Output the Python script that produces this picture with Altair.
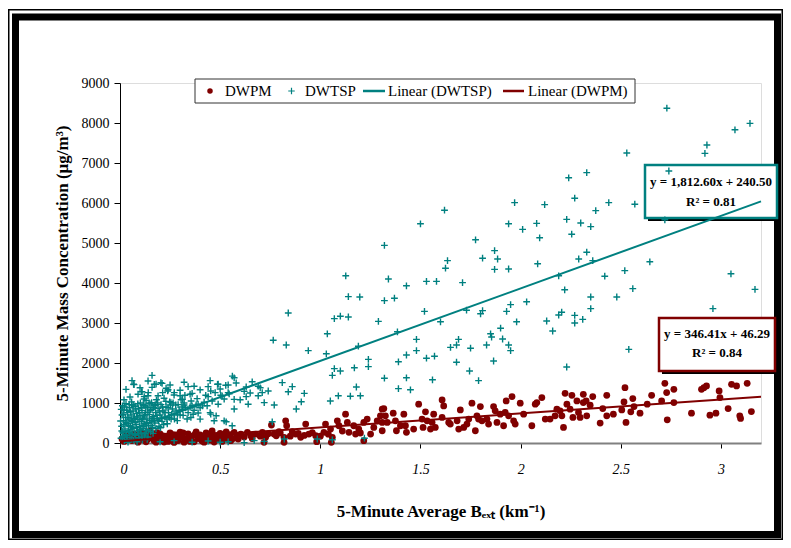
import altair as alt
import pandas as pd

# ---------------- data ----------------
series_names = ["DWPM", "DWTSP", "Linear (DWTSP)", "Linear (DWPM)"]

# DWTSP (+ markers): (Bext km-1, mass ug/m3)
tsp_points = [
    (2.73, 8370), (3.07, 7830), (3.145, 7990), (2.93, 7450), (2.92, 7240), (2.53, 7250),
    (2.74, 6800), (2.33, 6760), (2.24, 6630), (2.27, 6120), (1.97, 6010), (2.12, 5960),
    (2.44, 6010), (2.57, 5970), (1.62, 5820), (1.50, 5480), (1.94, 5480), (2.01, 5340),
    (2.08, 5490), (2.23, 5590), (2.30, 5500), (2.35, 5410), (2.375, 5810), (2.255, 5220),
    (2.095, 5130), (2.72, 5580), (1.32, 4940), (1.775, 5080), (1.87, 4810), (1.81, 4620),
    (1.885, 4600), (1.635, 4560), (1.625, 4370), (1.87, 4340), (1.94, 4350), (2.085, 4480),
    (2.29, 4600), (2.33, 4770), (2.36, 4560), (2.645, 4530), (3.05, 4230), (1.34, 4100),
    (1.43, 3930), (1.53, 4040), (1.58, 4040), (1.71, 4010), (2.19, 4180), (2.42, 4170),
    (2.52, 4310), (2.22, 3830), (2.56, 3860), (3.17, 3840), (1.32, 3560), (1.37, 3620),
    (1.52, 3290), (1.81, 3310), (1.80, 3230), (1.73, 3320), (1.95, 3460), (1.93, 3290),
    (2.03, 3530), (1.98, 3030), (1.60, 3030), (2.19, 3200), (2.205, 3270), (2.27, 3190),
    (2.27, 3000), (2.31, 3090), (2.35, 3650), (2.35, 3360), (2.48, 3650), (2.96, 3360),
    (2.13, 3050), (2.16, 2800), (1.385, 2780), (1.48, 2590), (1.69, 2590), (1.68, 2450),
    (1.65, 2390), (1.75, 2370), (1.83, 2450), (1.85, 2730), (1.855, 2650), (1.90, 2870),
    (1.91, 2600), (1.94, 2450), (1.95, 2310), (1.48, 2310), (1.43, 2200), (1.39, 2030),
    (1.53, 2120), (1.57, 2170), (1.68, 2020), (1.865, 2050), (2.54, 2340), (2.23, 1900),
    (1.45, 1330), (1.39, 1360), (1.43, 1630), (1.56, 1580), (1.32, 1620), (1.745, 1800),
    (1.79, 1560),
    (1.127, 4180), (0.84, 3250), (1.14, 3660), (1.197, 3650), (1.07, 3110), (1.10, 3170),
    (1.14, 3150), (1.29, 3040), (0.765, 2570), (0.83, 2450), (0.94, 2310), (1.035, 2730),
    (1.03, 2230), (1.07, 1860), (1.06, 1690), (1.10, 1800), (1.17, 1880), (1.19, 2420),
    (1.24, 2090), (1.24, 1910), (1.18, 1400), (1.15, 1170), (1.20, 1180), (1.09, 1180),
    (1.05, 1050), (0.81, 1510), (0.86, 1410), (0.84, 1280), (0.92, 1240), (0.905, 1030),
    (0.88, 850), (0.77, 950), (0.76, 530), (0.82, 100), (0.985, 100), (1.06, 80),
    (1.22, 120), (0.57, 1630), (0.63, 1400), (0.69, 1420), (0.74, 1300), (0.69, 1180),
    (0.72, 1010), (0.64, 970), (0.57, 1090), (0.57, 850), (0.51, 1180), (0.54, 1450),
    (0.49, 1470), (0.44, 1410), (0.16, 1690), (0.07, 1460), (0.18, 1470), (0.21, 1490),
    (0.11, 1280), (0.14, 1180), (0.24, 1330), (0.34, 1410), (0.37, 1420), (0.30, 1180),
    (0.35, 1220), (0.45, 760), (0.48, 680), (0.53, 530), (0.39, 750), (0.435, 930),
    (0.49, 970), (0.36, 930), (0.32, 950), (0.56, 430), (0.54, 30), (0.63, 1160),
    (0.71, 1260), (0.72, 40),
    (0.058, 1027), (0.121, 1160), (0.238, 1301), (0.271, 1260), (0.312, 1094), (0.324, 1193),
    (0.453, 1301), (0.487, 1467), (0.528, 1442), (0.54, 1260), (0.561, 1673), (0.39, 970),
    (0.412, 928), (0.428, 1193), (0.503, 1193), (0.453, 721), (0.47, 555), (0.52, 555),
    (0.312, 845), (0.287, 721), (0.254, 1011), (0.354, 639), (0.40, 597), (0.213, 1260),
    (0.108, 1285), (0.141, 1260), (0.171, 1467), (0.204, 1509), (0.068, 1467),
    # dense low-Bext cluster
    (0.005, 120), (0.008, 420), (0.01, 700), (0.012, 930), (0.015, 260), (0.018, 560),
    (0.02, 820), (0.022, 60), (0.025, 350), (0.028, 640), (0.03, 980), (0.032, 180),
    (0.035, 480), (0.038, 760), (0.04, 20), (0.042, 300), (0.045, 600), (0.048, 880),
    (0.05, 140), (0.052, 420), (0.055, 700), (0.058, 960), (0.06, 240), (0.062, 530),
    (0.065, 800), (0.068, 70), (0.07, 360), (0.072, 650), (0.075, 920), (0.078, 190),
    (0.08, 470), (0.082, 740), (0.085, 30), (0.088, 300), (0.09, 590), (0.092, 860),
    (0.095, 130), (0.098, 410), (0.10, 690), (0.102, 1000), (0.105, 250), (0.108, 540),
    (0.11, 810), (0.112, 80), (0.115, 370), (0.118, 650), (0.12, 930), (0.122, 200),
    (0.125, 480), (0.128, 760), (0.13, 1060), (0.132, 320), (0.135, 600), (0.138, 880),
    (0.14, 150), (0.143, 430), (0.146, 710), (0.15, 980), (0.153, 280), (0.156, 560),
    (0.16, 840), (0.163, 390), (0.166, 660), (0.17, 930), (0.174, 500), (0.178, 760),
    (0.182, 1080), (0.186, 610), (0.19, 870), (0.195, 420), (0.20, 700), (0.205, 960),
    (0.21, 540), (0.215, 800), (0.22, 1120), (0.225, 650), (0.23, 900), (0.236, 480),
    (0.242, 760), (0.248, 1030), (0.255, 600), (0.262, 850), (0.27, 700), (0.278, 950),
    (0.286, 560), (0.295, 820), (0.305, 1080), (0.315, 690), (0.328, 880), (0.34, 760),
    (0.355, 1050), (0.37, 820), (0.385, 1110), (0.40, 880), (0.42, 1020), (0.44, 1160),
    (0.46, 1050), (0.475, 1260), (0.50, 1350), (0.52, 1100), (0.545, 1230), (0.36, 1240),
    (0.30, 1320), (0.27, 1200), (0.23, 1370), (0.19, 1180), (0.16, 1390), (0.12, 1100),
    (0.09, 1220), (0.05, 1150), (0.03, 1340), (0.02, 1080), (0.06, 1560), (0.10, 1380),
    (0.14, 1550), (0.25, 1450), (0.32, 1520), (0.40, 1330), (0.45, 1560), (0.58, 1500),
    (0.62, 1290), (0.66, 1530), (0.60, 1080), (0.65, 1250), (0.70, 1380),
    (0.20, 30), (0.27, 60), (0.36, 20), (0.44, 50), (0.50, 20), (0.62, 10), (0.67, 60),
    (0.003, 550), (0.006, 840), (0.009, 300), (0.013, 150), (0.016, 720), (0.019, 460),
    (0.023, 900), (0.026, 210), (0.029, 520), (0.033, 820), (0.036, 90), (0.039, 640),
    (0.043, 430), (0.046, 960), (0.049, 270), (0.053, 780), (0.056, 560), (0.059, 90),
    (0.063, 390), (0.066, 950), (0.069, 610), (0.073, 220), (0.076, 520), (0.079, 850),
    (0.083, 380), (0.086, 650), (0.089, 980), (0.093, 230), (0.096, 760), (0.099, 540),
    (0.103, 330), (0.106, 880), (0.109, 150), (0.113, 600), (0.116, 960), (0.119, 420),
    (0.123, 700), (0.126, 240), (0.129, 900), (0.133, 510), (0.136, 90), (0.139, 770),
    (0.142, 330), (0.145, 1000), (0.148, 560), (0.152, 820), (0.155, 440), (0.158, 1010),
    (0.161, 620), (0.165, 240), (0.168, 880), (0.172, 560), (0.176, 960), (0.18, 360),
    (0.184, 690), (0.188, 1000), (0.192, 560), (0.197, 800), (0.202, 380), (0.207, 620),
    (0.212, 900), (0.218, 460), (0.224, 760), (0.229, 1040), (0.234, 600), (0.24, 880),
    (0.246, 640), (0.252, 950), (0.258, 720), (0.265, 1000), (0.272, 600), (0.28, 800),
    (0.29, 960), (0.30, 700), (0.31, 900), (0.32, 1000), (0.335, 600), (0.35, 900),
    (0.365, 720), (0.38, 950),
]

# DWPM (filled dots)
pm_points = [
    (0.02, 40), (0.04, 90), (0.06, 60), (0.08, 130), (0.10, 80), (0.12, 150), (0.14, 100),
    (0.16, 180), (0.17, 60), (0.19, 140), (0.20, 230), (0.21, 90), (0.23, 170), (0.24, 40),
    (0.25, 250), (0.26, 120), (0.28, 200), (0.29, 60), (0.30, 270), (0.31, 150), (0.33, 90),
    (0.34, 230), (0.35, 40), (0.36, 170), (0.38, 280), (0.39, 110), (0.40, 200), (0.41, 50),
    (0.43, 250), (0.44, 140), (0.45, 70), (0.46, 300), (0.48, 190), (0.49, 100), (0.50, 240),
    (0.51, 40), (0.52, 160), (0.53, 280), (0.54, 90), (0.55, 210), (0.03, 180), (0.07, 220),
    (0.11, 260), (0.15, 300), (0.09, 20), (0.13, 30), (0.18, 20), (0.22, 25), (0.27, 15),
    (0.32, 20), (0.37, 30), (0.42, 20), (0.47, 25),
    (0.01, 100), (0.05, 150), (0.09, 200), (0.13, 220), (0.165, 120), (0.185, 260),
    (0.215, 180), (0.235, 110), (0.265, 210), (0.285, 140), (0.315, 250), (0.345, 130),
    (0.375, 220), (0.395, 170), (0.425, 120), (0.455, 220), (0.475, 140), (0.505, 110),
    (0.525, 230), (0.545, 160), (0.565, 110), (0.59, 100), (0.62, 150), (0.66, 110),
    (0.70, 170), (0.74, 230), (0.78, 180), (0.80, 250), (0.85, 170), (0.89, 240),
    (0.92, 190), (0.96, 260), (1.00, 170), (1.04, 220), (1.11, 300), (1.20, 250),
    (0.553, 57), (0.57, 266), (0.586, 182), (0.603, 224), (0.636, 266), (0.653, 182),
    (0.678, 224), (0.711, 266), (0.719, 17), (0.727, 141), (0.756, 448), (0.769, 224),
    (0.794, 282), (0.819, 141), (0.819, 17), (0.827, 555), (0.832, 431), (0.86, 282),
    (0.877, 224), (0.902, 141), (0.927, 472), (0.943, 224), (0.977, 182), (0.982, 32),
    (1.018, 266), (1.026, 472), (1.051, 348), (1.055, 17), (1.06, 141), (1.085, 555),
    (1.093, 431), (1.126, 721), (1.135, 514), (1.143, 266), (1.167, 431), (1.176, 224),
    (1.192, 348), (1.217, 514), (1.217, 57), (1.234, 597), (1.251, 224), (1.267, 390),
    (1.284, 555), (1.30, 680), (1.309, 845),
    (1.317, 862), (1.325, 680), (1.309, 514), (1.309, 306), (1.364, 746), (1.375, 555),
    (1.334, 514), (1.380, 306), (1.417, 721), (1.400, 431), (1.425, 431), (1.430, 266),
    (1.466, 348), (1.491, 970), (1.508, 597), (1.513, 390), (1.525, 779), (1.533, 555),
    (1.558, 514), (1.550, 348), (1.566, 721), (1.574, 390), (1.608, 1077), (1.616, 928),
    (1.608, 639), (1.641, 514), (1.649, 472), (1.683, 555), (1.699, 828), (1.691, 348),
    (1.716, 390), (1.741, 597), (1.732, 472), (1.757, 995), (1.774, 306), (1.782, 680),
    (1.799, 912), (1.790, 597), (1.807, 555), (1.832, 597), (1.840, 472), (1.865, 912),
    (1.873, 804), (1.882, 514), (1.898, 721), (1.915, 431), (1.923, 763), (1.928, 1052),
    (1.940, 680), (1.957, 1160), (1.965, 555), (1.973, 472), (1.998, 995), (2.015, 721),
    (2.056, 431), (2.073, 970), (2.081, 1011), (2.106, 1136), (2.123, 597), (2.147, 597),
    (2.172, 680), (2.181, 845), (2.197, 804), (2.206, 680), (2.214, 390), (2.222, 1243),
    (2.231, 970), (2.256, 1193), (2.247, 845), (2.261, 639), (2.281, 1052), (2.289, 763),
    (2.297, 639), (2.313, 1218), (2.313, 1011), (2.327, 1052), (2.330, 680), (2.347, 945),
    (2.360, 1160), (2.397, 497), (2.410, 862), (2.430, 1193), (2.430, 680), (2.463, 721),
    (2.505, 828), (2.516, 1027), (2.521, 1384), (2.526, 514), (2.560, 1110), (2.566, 912),
    (2.550, 779), (2.596, 746), (2.632, 970), (2.654, 1193), (2.704, 1052), (2.720, 1492),
    (2.729, 1260), (2.732, 580), (2.765, 1343), (2.765, 1011), (2.853, 746), (2.903, 1343),
    (2.915, 1384), (2.928, 1426), (2.945, 696), (2.975, 746), (2.991, 1301), (2.995, 1135),
    (3.036, 862), (3.053, 1467), (3.078, 1426), (3.094, 680), (3.098, 613), (3.131, 1492),
    (3.152, 787),
]

# Linear trend lines as printed on the chart: [DWTSP, DWPM]
fit_slope = [1812.60, 346.41]
fit_intercept = [240.50, 46.29]
fit_r2 = [0.81, 0.84]
fit_x_range = [0.0, 3.2]

x_ticks = [0, 0.5, 1, 1.5, 2, 2.5, 3]
y_ticks = [0, 1000, 2000, 3000, 4000, 5000, 6000, 7000, 8000, 9000]

# ---------------- styling ----------------
TEAL = "#008080"
MAROON = "#800000"
SERIF = "Liberation Serif"
CROSS = "M-1,0H1M0,-1V1"

W, H = 641, 360
PAD_L, PAD_T = 112, 75
TOTAL_W, TOTAL_H = 775, 532

xscale = alt.Scale(domain=fit_x_range, nice=False, zero=True)
yscale = alt.Scale(domain=[y_ticks[0], y_ticks[-1]], nice=False)

xaxis = alt.Axis(
    values=x_ticks, format="~g", grid=False,
    title="5-Minute Average Bₑₓₜ (km⁻¹)",
    labelFont=SERIF, labelFontSize=14, labelFontStyle="italic", labelColor="black",
    labelPadding=14, tickSize=5, tickColor="black", tickWidth=1,
    domainColor="#808080", domainWidth=2,
    titleFont=SERIF, titleFontSize=17, titleFontWeight="bold", titleColor="black",
    titleX=W / 2, titleY=73, titleBaseline="alphabetic", titleAlign="center",
)
yaxis = alt.Axis(
    values=y_ticks, format="d", grid=False,
    title="5-Minute Mass Concentration (µg/m³)",
    labelFont=SERIF, labelFontSize=14, labelColor="black",
    labelPadding=5, tickSize=6, tickColor="black", tickWidth=1,
    domainColor="black", domainWidth=1,
    titleFont=SERIF, titleFontSize=17, titleFontWeight="bold", titleColor="black",
    titleAngle=270, titleX=-53, titleY=H / 2, titleBaseline="alphabetic", titleAlign="center",
)

pm_df = pd.DataFrame(pm_points, columns=["x", "y"])
tsp_df = pd.DataFrame(tsp_points, columns=["x", "y"])

fit_rows = []
for name, k, b in [(series_names[2], fit_slope[0], fit_intercept[0]),
                   (series_names[3], fit_slope[1], fit_intercept[1])]:
    for xv in fit_x_range:
        fit_rows.append({"x": xv, "y": k * xv + b, "series": name})
fit_df = pd.DataFrame(fit_rows)

X = alt.X("x:Q", scale=xscale, axis=xaxis)
Y = alt.Y("y:Q", scale=yscale, axis=yaxis)

pm_layer = alt.Chart(pm_df).mark_circle(size=46, color=MAROON, opacity=1).encode(x=X, y=Y)
tsp_layer = alt.Chart(tsp_df).mark_point(
    shape=CROSS, size=46, filled=False, color=TEAL, strokeWidth=1.4, opacity=1
).encode(x=X, y=Y)
fit_layer = alt.Chart(fit_df).mark_line(strokeWidth=2).encode(
    x=X, y=Y,
    color=alt.Color("series:N", scale=alt.Scale(domain=series_names[2:], range=[TEAL, MAROON]),
                    legend=None),
    detail="series:N",
)

# ---------------- decorations (pixel positions relative to plot origin) ----------------
one = alt.Data(values=[{"k": 0}])


def px_rect(x1, x2, y1, y2, **mk):
    return alt.Chart(one).mark_rect(**mk).encode(
        x=alt.value(x1), x2=alt.value(x2), y=alt.value(y1), y2=alt.value(y2))


def px_text(x, y, s, **mk):
    return alt.Chart(one).mark_text(**mk).encode(
        x=alt.value(x), y=alt.value(y), text=alt.value(s))


def px_rule(x1, x2, y, color, width):
    return alt.Chart(one).mark_rule(color=color, strokeWidth=width).encode(
        x=alt.value(x1), x2=alt.value(x2), y=alt.value(y))


ox, oy = PAD_L + 8, PAD_T + 8  # page position of plot origin

# outer double frame
frame = [
    px_rect(8.75 - ox, 782.25 - ox, 9.75 - oy, 539.25 - oy, filled=False, stroke="black", strokeWidth=1.5),
    px_rect(15.5 - ox, 777.5 - ox, 17 - oy, 534.5 - oy, filled=False, stroke="black", strokeWidth=7),
]


def eq_box(x1, x2, y1, y2, color, line1, line2, y_l1, y_l2):
    cx = (x1 + x2) / 2
    return [
        px_rect(x1 + 3, x2 + 3, y1 + 3, y2 + 3, color="black"),
        px_rect(x1, x2, y1, y2, fill="white", stroke=color, strokeWidth=2.5),
        px_text(cx, y_l1, line1, font=SERIF, fontSize=13, fontWeight="bold", color="black",
                align="center", baseline="alphabetic"),
        px_text(cx, y_l2, line2, font=SERIF, fontSize=13, fontWeight="bold", color="black",
                align="center", baseline="alphabetic"),
    ]


box_tsp = eq_box(645 - ox, 777 - ox, 165 - oy, 218 - oy, TEAL,
                 f"y = {fit_slope[0]:,.2f}x + {fit_intercept[0]:.2f}", f"R² = {fit_r2[0]:.2f}",
                 186 - oy, 206 - oy)
box_pm = eq_box(659 - ox, 775 - ox, 318 - oy, 371 - oy, MAROON,
                f"y = {fit_slope[1]:,.2f}x + {fit_intercept[1]:.2f}", f"R² = {fit_r2[1]:.2f}",
                338 - oy, 357 - oy)

# legend
ly = 91 - oy
ltxt = dict(font=SERIF, fontSize=15, color="black", align="left", baseline="alphabetic")
legend = [
    px_rect(195 - ox, 635 - ox, 79 - oy, 103 - oy, fill="white", stroke="#333333", strokeWidth=1),
    alt.Chart(one).mark_circle(size=30, color=MAROON, opacity=1).encode(
        x=alt.value(210 - ox), y=alt.value(ly)),
    px_text(225 - ox, 96 - oy, series_names[0], **ltxt),
    alt.Chart(one).mark_point(shape=CROSS, size=42, filled=False, color=TEAL, strokeWidth=1.2,
                              opacity=1).encode(x=alt.value(291.5 - ox), y=alt.value(ly)),
    px_text(305 - ox, 96 - oy, series_names[1], **ltxt),
    px_rule(363 - ox, 385 - ox, ly, TEAL, 2.5),
    px_text(388 - ox, 96 - oy, series_names[2], **ltxt),
    px_rule(503 - ox, 524 - ox, ly, MAROON, 2.5),
    px_text(528 - ox, 96 - oy, series_names[3], **ltxt),
]

chart = alt.layer(
    *frame, *box_tsp, *box_pm, pm_layer, tsp_layer, fit_layer, *legend
).properties(
    width=W, height=H,
    padding={"left": PAD_L, "top": PAD_T, "right": TOTAL_W - PAD_L - W, "bottom": TOTAL_H - PAD_T - H},
    autosize=alt.AutoSizeParams(type="none"),
).configure_view(stroke=None).configure(background="white")

chart.save("out.html", embed_options={"renderer": "svg", "actions": False})
